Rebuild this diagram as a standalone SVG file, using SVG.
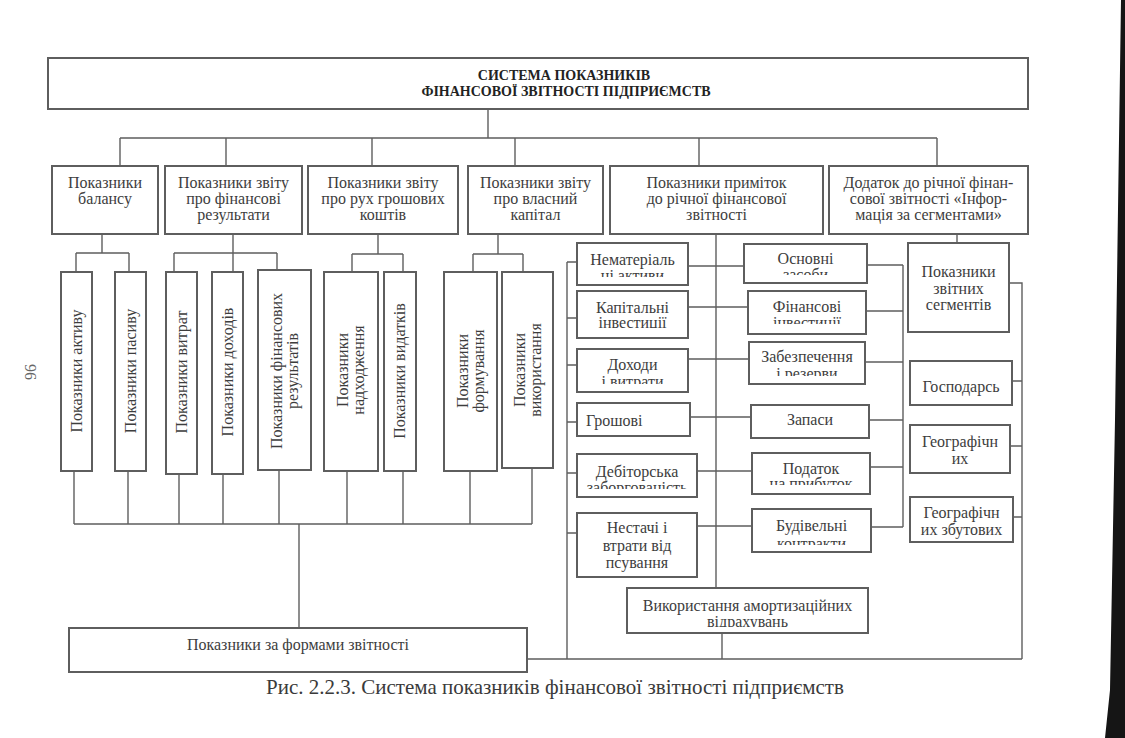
<svg xmlns="http://www.w3.org/2000/svg" width="1125" height="738" viewBox="0 0 1125 738">
<defs>
<style>
.bx{fill:#fff;stroke:#5e5e5e;stroke-width:2}
.ln{fill:none;stroke:#5e5e5e;stroke-width:1.4}
.t{font-family:"Liberation Serif","Times New Roman",serif;font-size:16px;fill:#3d3d3d;text-anchor:middle}
.tl{text-anchor:start}
.ttl{font-family:"Liberation Serif","Times New Roman",serif;font-size:14px;font-weight:bold;fill:#222;text-anchor:middle}
.cap{font-family:"Liberation Serif","Times New Roman",serif;font-size:21px;fill:#3a3a3a;text-anchor:middle}
</style>
<clipPath id="c-nem"><rect x="577" y="243" width="111" height="34"/></clipPath>
<clipPath id="c-kap"><rect x="577" y="291" width="111" height="37"/></clipPath>
<clipPath id="c-dox"><rect x="577" y="349" width="111" height="35"/></clipPath>
<clipPath id="c-deb"><rect x="577" y="454" width="120" height="35"/></clipPath>
<clipPath id="c-osn"><rect x="744" y="244" width="123" height="31"/></clipPath>
<clipPath id="c-fini"><rect x="748" y="291" width="118" height="33"/></clipPath>
<clipPath id="c-zab"><rect x="749" y="342" width="116" height="34"/></clipPath>
<clipPath id="c-pod"><rect x="752" y="453" width="118" height="32"/></clipPath>
<clipPath id="c-bud"><rect x="752" y="509" width="119" height="36"/></clipPath>
<clipPath id="c-vyk"><rect x="627" y="588" width="241" height="39"/></clipPath>
</defs>
<rect x="0" y="0" width="1125" height="738" fill="#fff"/>

<g id="connectors" class="ln">
<path d="M488 109V138M120 138H937M120 138V166M226 138V166M372 138V166M515 138V166M699 138V166M937 138V166"/>
<path d="M102 234V253M76 253H129M76 253V272M129 253V272"/>
<path d="M233 234V272M174 253H277M174 253V272M277 253V270"/>
<path d="M378 234V254M352 254H403M352 254V272M403 254V272"/>
<path d="M498 234V254M473 254H523M473 254V272M523 254V272"/>
<path d="M74 471V524M128 471V524M179 474V524M223 474V524M279 470V524M347 471V524M403 471V524M470 471V524M532 468V524M74 524H532M299 524V628"/>
<path d="M716 234V588M722 633V659"/>
<path d="M567 262V659M567 262H577M567 318H577M567 365H577M567 422H577M567 473H577M567 533H577"/>
<path d="M688 266H744M688 307H748M688 359H749M690 417H751M697 471H752M697 526H752"/>
<path d="M867 265H903M866 311H903M865 362H903M869 420H903M870 467H903M871 527H903M903 265V527"/>
<path d="M957 234V243M1009 283H1022V659M1012 381H1022M1010 446H1022M1013 517H1022M527 659H1022"/>
</g>

<g id="n-top"><rect class="bx" x="48" y="58" width="980" height="51"/>
<text class="ttl" x="564" y="80">СИСТЕМА ПОКАЗНИКІВ</text>
<text class="ttl" x="566" y="96">ФІНАНСОВОЇ ЗВІТНОСТІ ПІДПРИЄМСТВ</text></g>

<g id="n-bal"><rect class="bx" x="52" y="166" width="106" height="68"/>
<text class="t" x="105" y="188">Показники</text><text class="t" x="105" y="204">балансу</text></g>
<g id="n-fin"><rect class="bx" x="165" y="166" width="137" height="68"/>
<text class="t" x="233.5" y="188">Показники звіту</text><text class="t" x="233.5" y="204">про фінансові</text><text class="t" x="233.5" y="220">результати</text></g>
<g id="n-cash"><rect class="bx" x="308" y="166" width="150" height="68"/>
<text class="t" x="383" y="188">Показники звіту</text><text class="t" x="383" y="204">про рух грошових</text><text class="t" x="383" y="220">коштів</text></g>
<g id="n-eq"><rect class="bx" x="468" y="166" width="135" height="68"/>
<text class="t" x="535.5" y="188">Показники звіту</text><text class="t" x="535.5" y="204">про власний</text><text class="t" x="535.5" y="220">капітал</text></g>
<g id="n-notes"><rect class="bx" x="610" y="166" width="213" height="68"/>
<text class="t" x="716.5" y="188">Показники приміток</text><text class="t" x="716.5" y="204">до річної фінансової</text><text class="t" x="716.5" y="220">звітності</text></g>
<g id="n-seg"><rect class="bx" x="829" y="166" width="199" height="68"/>
<text class="t" x="928.5" y="188">Додаток до річної фінан-</text><text class="t" x="928.5" y="204">сової звітності «Інфор-</text><text class="t" x="928.5" y="220">мація за сегментами»</text></g>

<g id="n-akt"><rect class="bx" x="61" y="272" width="31" height="199"/>
<text class="t" transform="translate(76.5 371) rotate(-90)" y="5">Показники активу</text></g>
<g id="n-pas"><rect class="bx" x="115" y="272" width="31" height="199"/>
<text class="t" transform="translate(130.5 371) rotate(-90)" y="5">Показники пасиву</text></g>
<g id="n-vytr"><rect class="bx" x="166" y="272" width="31" height="202"/>
<text class="t" transform="translate(181.5 372) rotate(-90)" y="5">Показники витрат</text></g>
<g id="n-dox"><rect class="bx" x="212" y="272" width="31" height="202"/>
<text class="t" transform="translate(227.5 372) rotate(-90)" y="5">Показники доходів</text></g>
<g id="n-finres"><rect class="bx" x="258" y="270" width="53" height="200"/>
<g transform="translate(284.5 371) rotate(-90)"><text class="t" y="-3">Показники фінансових</text><text class="t" y="13">результатів</text></g></g>
<g id="n-nadx"><rect class="bx" x="324" y="272" width="54" height="199"/>
<g transform="translate(351 370) rotate(-90)"><text class="t" y="-3">Показники</text><text class="t" y="13">надходження</text></g></g>
<g id="n-vyd"><rect class="bx" x="384" y="272" width="32" height="199"/>
<text class="t" transform="translate(400 371) rotate(-90)" y="5">Показники видатків</text></g>
<g id="n-form"><rect class="bx" x="444" y="272" width="53" height="199"/>
<g transform="translate(470.5 371) rotate(-90)"><text class="t" y="-3">Показники</text><text class="t" y="13">формування</text></g></g>
<g id="n-vykor"><rect class="bx" x="502" y="272" width="51" height="196"/>
<g transform="translate(527.5 370) rotate(-90)"><text class="t" y="-3">Показники</text><text class="t" y="13">використання</text></g></g>

<g id="n-forms"><rect class="bx" x="69" y="628" width="458" height="44"/>
<text class="t" x="298" y="650">Показники за формами звітності</text></g>

<g id="n-nemat"><rect class="bx" x="577" y="243" width="111" height="42"/>
<g clip-path="url(#c-nem)"><text class="t" x="632.5" y="265">Нематеріаль</text><text class="t" x="632.5" y="281">ні активи</text></g></g>
<g id="n-kapinv"><rect class="bx" x="577" y="291" width="111" height="47"/>
<g clip-path="url(#c-kap)"><text class="t" x="632.5" y="313">Капітальні</text><text class="t" x="632.5" y="328">інвестиції</text></g></g>
<g id="n-doxvytr"><rect class="bx" x="577" y="349" width="111" height="43"/>
<g clip-path="url(#c-dox)"><text class="t" x="632.5" y="370">Доходи</text><text class="t" x="632.5" y="387">і витрати</text></g></g>
<g id="n-grosh"><rect class="bx" x="577" y="403" width="113" height="33"/>
<text class="t tl" x="586" y="426">Грошові</text></g>
<g id="n-deb"><rect class="bx" x="577" y="454" width="120" height="43"/>
<g clip-path="url(#c-deb)"><text class="t" x="637" y="477">Дебіторська</text><text class="t" x="637" y="493">заборгованість</text></g></g>
<g id="n-nest"><rect class="bx" x="577" y="513" width="120" height="64"/>
<text class="t" x="637" y="533">Нестачі і</text><text class="t" x="637" y="551">втрати від</text><text class="t" x="637" y="568">псування</text></g>

<g id="n-osn"><rect class="bx" x="744" y="244" width="123" height="39"/>
<g clip-path="url(#c-osn)"><text class="t" x="805.5" y="264">Основні</text><text class="t" x="805.5" y="280">засоби</text></g></g>
<g id="n-fininv"><rect class="bx" x="748" y="291" width="118" height="43"/>
<g clip-path="url(#c-fini)"><text class="t" x="807" y="312">Фінансові</text><text class="t" x="807" y="328">інвестиції</text></g></g>
<g id="n-zab"><rect class="bx" x="749" y="342" width="116" height="42"/>
<g clip-path="url(#c-zab)"><text class="t" x="807" y="362">Забезпечення</text><text class="t" x="807" y="379">і резерви</text></g></g>
<g id="n-zap"><rect class="bx" x="751" y="405" width="118" height="33"/>
<text class="t" x="810" y="425">Запаси</text></g>
<g id="n-pod"><rect class="bx" x="752" y="453" width="118" height="41"/>
<g clip-path="url(#c-pod)"><text class="t" x="811" y="474">Податок</text><text class="t" x="811" y="489">на прибуток</text></g></g>
<g id="n-bud"><rect class="bx" x="752" y="509" width="119" height="43"/>
<g clip-path="url(#c-bud)"><text class="t" x="811.5" y="531">Будівельні</text><text class="t" x="811.5" y="549">контракти</text></g></g>
<g id="n-amort"><rect class="bx" x="627" y="588" width="241" height="45"/>
<g clip-path="url(#c-vyk)"><text class="t" x="747.5" y="611">Використання амортизаційних</text><text class="t" x="747.5" y="627">відрахувань</text></g></g>

<g id="n-zvseg"><rect class="bx" x="908" y="243" width="101" height="89"/>
<text class="t" x="958.5" y="277">Показники</text><text class="t" x="958.5" y="294">звітних</text><text class="t" x="958.5" y="310">сегментів</text></g>
<g id="n-gosp"><rect class="bx" x="910" y="361" width="102" height="44"/>
<text class="t" x="961" y="392">Господарсь</text></g>
<g id="n-geo"><rect class="bx" x="910" y="425" width="100" height="48"/>
<text class="t" x="960" y="447">Географічн</text><text class="t" x="960" y="464">их</text></g>
<g id="n-geozb"><rect class="bx" x="910" y="497" width="103" height="45"/>
<text class="t" x="961.5" y="518">Географічн</text><text class="t" x="961.5" y="535">их збутових</text></g>

<text class="cap" x="555" y="694">Рис. 2.2.3. Система показників фінансової звітності підприємств</text>
<text class="t" transform="translate(30 372) rotate(90)" y="5" style="fill:#666">96</text>
<path d="M1121 0H1125V738H1105L1110 690L1115 420Z" fill="#151515"/>
</svg>
